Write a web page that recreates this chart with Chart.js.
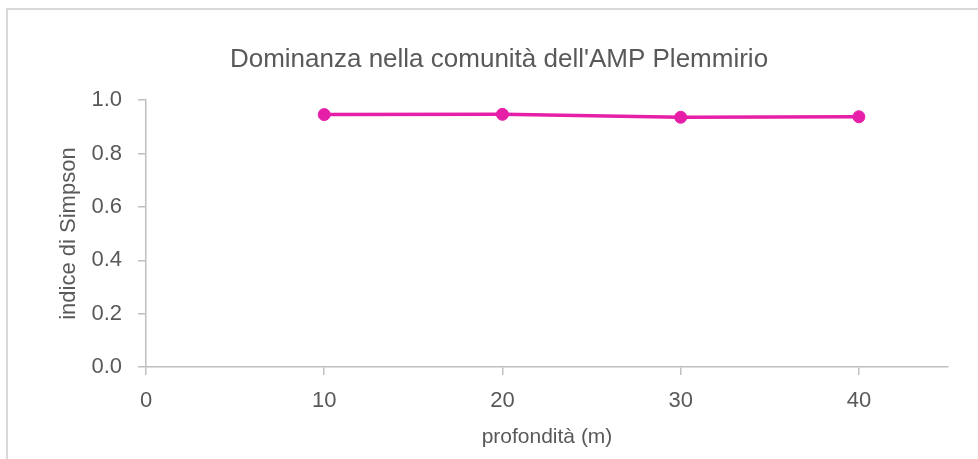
<!DOCTYPE html>
<html>
<head>
<meta charset="utf-8">
<script src="https://cdn.jsdelivr.net/npm/chart.js@4.4.1/dist/chart.umd.min.js"></script>
<style>
  html, body { margin: 0; padding: 0; background: #ffffff; overflow: hidden; }
  #wrap { position: relative; width: 978px; height: 459px; overflow: hidden; }
  #frame { position: absolute; left: 6px; top: 8px; width: 1100px; height: 600px; border: 2px solid #d9d9d9; box-sizing: border-box; }
  #c { position: absolute; left: 0; top: 0; }
</style>
</head>
<body>
<div id="wrap">
  <div id="frame"></div>
  <canvas id="c" width="978" height="459"></canvas>
</div>
<script>
const chartTitle = "Dominanza nella comunità dell'AMP Plemmirio";
const xAxisTitle = "profondità (m)";
const yAxisTitle = "indice di Simpson";
const depths = [10, 20, 30, 40];
const simpson = [0.946, 0.947, 0.936, 0.938];
const xTickValues = [0, 10, 20, 30, 40];
const yTickValues = [0.0, 0.2, 0.4, 0.6, 0.8, 1.0];

const FONT = "'Liberation Sans Narrow', 'Arial Narrow', 'Liberation Sans', Arial, sans-serif";
const TEXT = '#595959';
const AXIS = '#bfbfbf';
const LINE = '#e61fa9';

const points = depths.map((d, i) => ({ x: d, y: simpson[i] }));

new Chart(document.getElementById('c'), {
  type: 'line',
  data: {
    datasets: [{
      data: points,
      borderColor: LINE,
      backgroundColor: LINE,
      borderWidth: 3.5,
      pointRadius: 6,
      pointBorderWidth: 1,
      pointBackgroundColor: LINE,
      pointBorderColor: LINE,
      tension: 0,
      fill: false
    }]
  },
  options: {
    responsive: false,
    animation: false,
    layout: { padding: { left: 50, right: 30, top: 0, bottom: 0 } },
    plugins: {
      legend: { display: false },
      tooltip: { enabled: false },
      title: {
        display: true,
        text: chartTitle,
        color: TEXT,
        font: { family: FONT, size: 26, weight: 'normal' },
        padding: { top: 44, bottom: 25 }
      }
    },
    scales: {
      x: {
        type: 'linear',
        min: 0,
        max: 45,
        afterFit: (s) => { s.height = 92; },
        afterBuildTicks: (s) => { s.ticks = xTickValues.map(v => ({ value: v })); },
        ticks: {
          color: TEXT,
          font: { family: FONT, size: 22 },
          padding: 13,
          includeBounds: false,
          callback: (v) => String(v)
        },
        grid: { drawOnChartArea: false, drawTicks: true, tickLength: 8, color: AXIS, lineWidth: 1.5 },
        border: { display: true, color: AXIS, width: 1.5 },
        title: {
          display: true,
          text: xAxisTitle,
          color: TEXT,
          font: { family: FONT, size: 21 },
          padding: { top: 0, bottom: 9 }
        }
      },
      y: {
        type: 'linear',
        min: 0,
        max: 1,
        afterFit: (s) => { s.width = 96; },
        afterBuildTicks: (s) => { s.ticks = yTickValues.map(v => ({ value: v })); },
        ticks: {
          color: TEXT,
          font: { family: FONT, size: 22 },
          padding: 16,
          callback: (v) => Number(v).toFixed(1)
        },
        grid: { drawOnChartArea: false, drawTicks: true, tickLength: 8, color: AXIS, lineWidth: 1.5 },
        border: { display: true, color: AXIS, width: 1.5 },
        title: {
          display: true,
          text: yAxisTitle,
          color: TEXT,
          font: { family: FONT, size: 22 },
          padding: { top: 6, bottom: 0 }
        }
      }
    }
  }
});
</script>
</body>
</html>
